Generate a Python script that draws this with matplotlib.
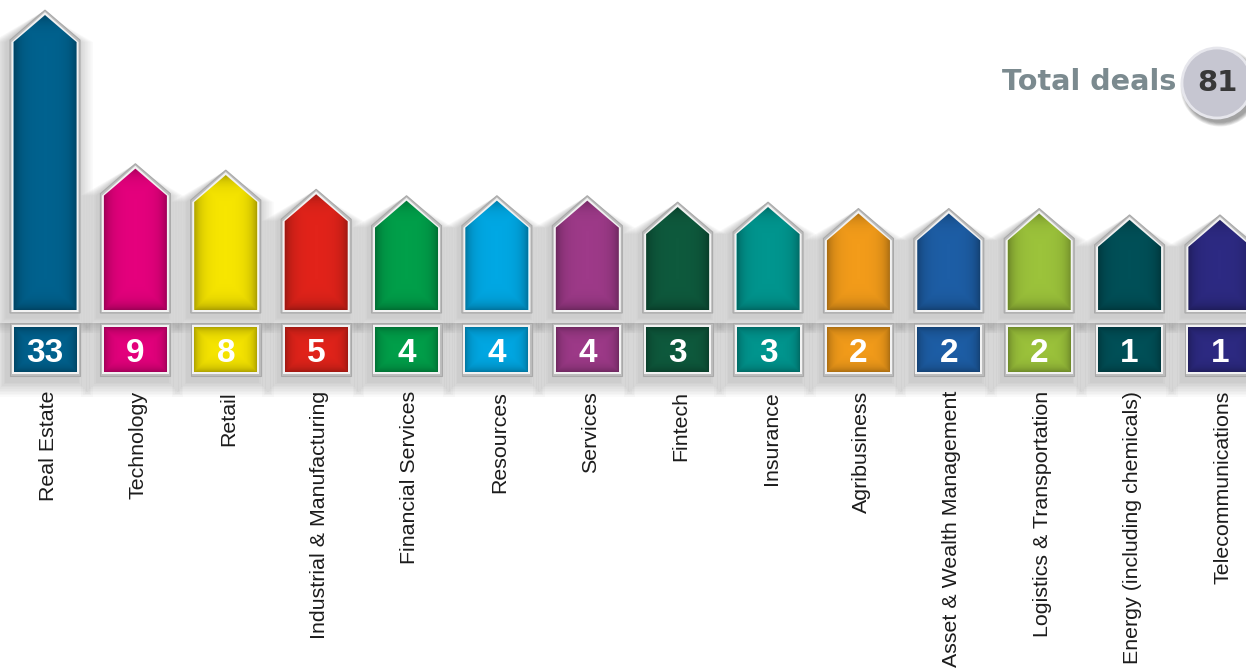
import numpy as np
import matplotlib.pyplot as plt
from matplotlib.patches import Polygon, Rectangle, Ellipse

sectors = ["Real Estate", "Technology", "Retail", "Industrial & Manufacturing",
           "Financial Services", "Resources", "Services", "Fintech", "Insurance",
           "Agribusiness", "Asset & Wealth Management", "Logistics & Transportation",
           "Energy (including chemicals)", "Telecommunications"]
deals = [33, 9, 8, 5, 4, 4, 4, 3, 3, 2, 2, 2, 1, 1]
colours = ["#00628f", "#e5007d", "#f7e600", "#e2231a", "#00a04a", "#00a8e4",
           "#9e3a89", "#0e5a3d", "#00968f", "#f39c1a", "#1d5ea6", "#9cc33b",
           "#005058", "#2d2a83"]
total_label = "Total deals"

# pixel scale of the layout (px per data unit)
SX = 90.38
SY = 6.4
Y0 = 221.3  # pixel row (from top) where y = 0


def dx(p):
    return p / SX


def dy(p):
    return p / SY


def row(r):
    # pixel row from top -> data y
    return (Y0 - r) / SY


fig = plt.figure(figsize=(12.46, 6.69), dpi=100)
ax = fig.add_axes([0, 0, 1, 1])
ax.set_xlim(-dx(45), dx(1246 - 45))
ax.set_ylim(row(669), row(0))
ax.axis("off")

base = row(313)


def arrow(x, top, hw, tip, bottom):
    return [(x - dx(hw), bottom), (x - dx(hw), top - dy(tip)), (x, top),
            (x + dx(hw), top - dy(tip)), (x + dx(hw), bottom)]


def vignette(patch, x0, x1, y0, y1, strength=0.3, width=7.0):
    nx = int((x1 - x0) * SX) + 1
    ny = int((y1 - y0) * SY) + 1
    xs = np.linspace(0, nx, nx)
    ys = np.linspace(0, ny, ny)
    gx, gy = np.meshgrid(xs, ys)
    d = np.minimum(np.minimum(gx, nx - gx), np.minimum(gy, ny - gy))
    a = strength * np.exp(-d / width)
    img = np.zeros((ny, nx, 4))
    img[..., 3] = a
    im = ax.imshow(img, extent=(x0, x1, y0, y1), origin="lower", aspect="auto",
                   zorder=patch.get_zorder() + 0.1, interpolation="bilinear")
    im.set_clip_path(patch)


for i, (name, v, c) in enumerate(zip(sectors, deals, colours)):
    x = i
    # soft shadows
    for k in range(1, 11):
        ax.add_patch(Polygon(arrow(x - dx(3), v - dy(2), 35 + 1.6 * k, 30, base - dy(1.6 * k + 4)),
                             closed=True, fc="black", ec="none", alpha=0.018, zorder=1))
        ax.add_patch(Rectangle((x - dx(38 + 1.6 * k), row(376) - dy(1.6 * k + 5)),
                               dx(70 + 3.2 * k), dy(53 + 1.6 * k + 5),
                               fc="black", ec="none", alpha=0.018, zorder=1))
    # arrow bar
    ax.add_patch(Polygon(arrow(x, v, 35, 30, base), closed=True,
                         fc="#bdbdbd", ec="#a9a9a9", lw=0.8, zorder=2))
    ax.add_patch(Polygon(arrow(x, v - dy(2), 33.5, 30, base + dy(1)), closed=True,
                         fc="#f2f2f2", ec="none", zorder=2.2))
    inner = Polygon(arrow(x, v - dy(5), 31.5, 27, base + dy(3)), closed=True,
                    fc=c, ec="none", zorder=3)
    ax.add_patch(inner)
    vignette(inner, x - dx(31.5), x + dx(31.5), base + dy(3), v - dy(5))
    # value box
    ax.add_patch(Rectangle((x - dx(35), row(376)), dx(70), dy(53),
                           fc="#bdbdbd", ec="#a9a9a9", lw=0.8, zorder=2))
    ax.add_patch(Rectangle((x - dx(33.5), row(374)), dx(67), dy(49),
                           fc="#f2f2f2", ec="none", zorder=2.2))
    box = Rectangle((x - dx(31.5), row(372)), dx(63), dy(45), fc=c, ec="none", zorder=3)
    ax.add_patch(box)
    vignette(box, x - dx(31.5), x + dx(31.5), row(372), row(327), strength=0.28, width=6)
    ax.text(x, row(362), str(v), ha="center", va="baseline", color="white",
            fontsize=24, fontweight="bold", family="Liberation Sans", zorder=5)
    # category label
    ax.text(x + dx(3), row(391), name, rotation=90, ha="center", va="top",
            fontsize=15.4, color="#1c1c1c", family="Liberation Sans", zorder=5)

# total deals badge
ax.text(dx(1176 - 45), row(82), total_label, ha="right", va="center",
        fontsize=20.6, fontweight="bold", color="#7b8a8f", family="DejaVu Sans")
bx = dx(1217 - 45)
by = row(83)
for k in range(1, 7):
    ax.add_patch(Ellipse((bx + dx(3), by - dy(4)), dx(70 + k * 1.5), dy(70 + k * 1.5),
                         fc="black", ec="none", alpha=0.07, zorder=6))
ax.add_patch(Ellipse((bx, by), dx(70), dy(70), fc="#c6c6d1", ec="#e6e6ec", lw=2, zorder=7))
ax.text(bx, by, str(sum(deals)), ha="center", va="center", fontsize=21,
        fontweight="bold", color="#383838", family="DejaVu Sans", zorder=8)

fig.savefig("out.png", dpi=100)
